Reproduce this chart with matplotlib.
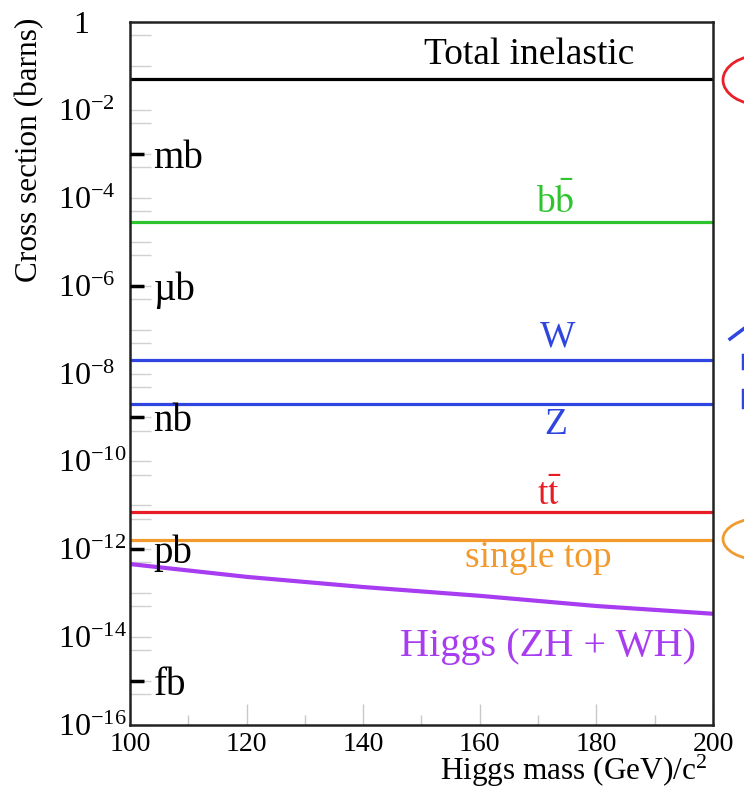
import numpy as np
import matplotlib
matplotlib.use("Agg")
import matplotlib.pyplot as plt
from matplotlib.ticker import FixedLocator, FuncFormatter
from matplotlib.patches import Ellipse
from matplotlib.lines import Line2D

plt.rcParams['font.family'] = ['Liberation Serif', 'DejaVu Serif']
plt.rcParams['mathtext.fontset'] = 'stix'

# flat cross sections (barns), drawn over the full mass range
mass_range = [100, 200]
processes = ["Total inelastic", r"b$\bar{\rm b}$", "W", "Z", r"t$\bar{\rm t}$", "single top"]
sigma = [5.0e-2, 2.8e-5, 2.0e-8, 2.0e-9, 7.0e-12, 1.6e-12]
colors = ["black", "#2ec42e", "#2f45e0", "#2f45e0", "#e81c24", "#f29a2e"]
label_x = [168.5, 173.0, 173.3, 173.0, 172.0, 170.0]
label_y = [1.8e-1, 8.0e-5, 6.8e-8, 6.8e-10, 1.7e-11, 6.3e-13]

# Higgs (ZH + WH)
higgs_mass = [100, 120, 140, 160, 180, 200]
higgs_sigma = [4.6e-13, 2.35e-13, 1.38e-13, 8.7e-14, 5.1e-14, 3.4e-14]
higgs_color = "#a83cf0"

units = ["mb", "\u00b5b", "nb", "pb", "fb"]
unit_vals = [1e-3, 1e-6, 1e-9, 1e-12, 1e-15]

fig = plt.figure(figsize=(7.44, 7.88), dpi=100)
ax = fig.add_axes([0.1747, 0.08, 0.7836, 0.892])

for s, c in zip(sigma, colors):
    ax.plot(mass_range, [s, s], color=c, lw=2.3, solid_capstyle='butt')
ax.plot(higgs_mass, higgs_sigma, color=higgs_color, lw=3)

for name, c, x, y in zip(processes, colors, label_x, label_y):
    ax.text(x, y, name, color=c, fontsize=27, ha='center', va='center')
ax.text(171.7, 6e-15, "Higgs (ZH + WH)", color=higgs_color, fontsize=29,
        ha='center', va='center')

ax.set_yscale('log')
ax.set_xlim(100, 200)
ax.set_ylim(1e-16, 1)

ax.yaxis.set_major_locator(FixedLocator(10.0 ** np.arange(-16, 1)))
ax.yaxis.set_minor_locator(FixedLocator(5 * 10.0 ** np.arange(-17, 0)))


def ylab(v, pos):
    e = int(round(np.log10(v)))
    if e % 2:
        return ""
    if e == 0:
        return "  1"
    return r"$\mathregular{10^{%d}}$" % e


ax.yaxis.set_major_formatter(FuncFormatter(ylab))
ax.tick_params(axis='y', which='both', direction='in', length=15, width=1,
               color='#d0d0d0', labelsize=23, pad=52)
for lab in ax.get_yticklabels():
    lab.set_horizontalalignment('left')

ax.set_xticks([100, 120, 140, 160, 180, 200])
ax.set_xticks([110, 130, 150, 170, 190], minor=True)
ax.tick_params(axis='x', which='major', direction='in', length=15, width=1,
               color='#c8c8c8', labelsize=20, pad=5)
ax.tick_params(axis='x', which='minor', direction='in', length=7, width=1,
               color='#c8c8c8')
for sp in ax.spines.values():
    sp.set_linewidth(1.8)
    sp.set_color('#222222')

# unit markers on the left edge
ax2 = ax.twinx()
ax2.set_yscale('log')
ax2.set_ylim(1e-16, 1)
ax2.yaxis.tick_left()
ax2.yaxis.set_major_locator(FixedLocator(unit_vals))
ax2.yaxis.set_minor_locator(FixedLocator([]))
ax2.set_yticklabels(units)
ax2.tick_params(axis='y', direction='in', length=10, width=2.5, color='black',
                labelsize=28, pad=-17)
for lab in ax2.get_yticklabels():
    lab.set_horizontalalignment('left')
for sp in ax2.spines.values():
    sp.set_visible(False)

fig.text(30 / 744, 1 - 18 / 788, "Cross section (barns)", rotation=90,
         ha='center', va='top', fontsize=22.5)
fig.text(707 / 744, 1 - 771 / 788, r"Higgs mass (GeV)/c$^{\mathregular{2}}$",
         ha='right', va='center', fontsize=22.5)

# cut-off markings at the right edge
W, H = 744, 788
fig.patches.append(Ellipse((762 / W, 1 - 80 / H), 78 / W, 50 / H, fill=False,
                           ec='#e8202a', lw=2, transform=fig.transFigure))
fig.patches.append(Ellipse((762 / W, 1 - 539 / H), 78 / W, 42 / H, fill=False,
                           ec='#f29a2e', lw=2, transform=fig.transFigure))
fig.lines.append(Line2D([730 / W, 746 / W], [1 - 339 / H, 1 - 327 / H],
                        color='#2f45e0', lw=2.5, transform=fig.transFigure))
fig.lines.append(Line2D([743 / W, 743 / W], [1 - 355 / H, 1 - 368 / H],
                        color='#2f45e0', lw=2.5, transform=fig.transFigure))
fig.lines.append(Line2D([743 / W, 743 / W], [1 - 390 / H, 1 - 407 / H],
                        color='#2f45e0', lw=2.5, transform=fig.transFigure))

fig.savefig("out.png", dpi=100)
